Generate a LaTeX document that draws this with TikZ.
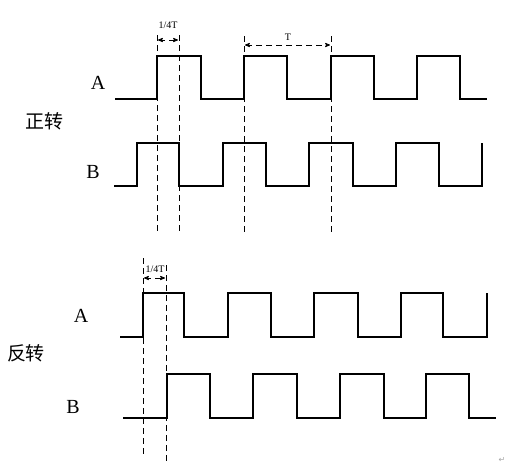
\documentclass[tikz,border=0pt]{standalone}
\usepackage{fontspec}
\setmainfont{Liberation Serif}
\newfontfamily\cjk{Noto Sans CJK SC}
\newfontfamily\symfont{DejaVu Sans}
\usetikzlibrary{arrows}

\begin{document}
\begin{tikzpicture}[x=1pt,y=-1pt,>=stealth',
  wave/.style={line width=1.6pt,line join=miter},
  guide/.style={dashed,dash pattern=on 6pt off 4pt,line width=0.8pt},
  span/.style={<->,guide,shorten >=1pt,shorten <=1pt},
  chan label/.style={font=\fontsize{20}{24}\selectfont,inner sep=0pt},
  dir label/.style={font=\cjk\fontsize{19}{22}\selectfont,inner sep=0pt},
  span label/.style={font=\fontsize{10}{11}\selectfont,inner sep=0pt}]

  \useasboundingbox (0,0) rectangle (523,475);

  % forward rotation
  \node[dir label] (fwd) at (44,121) {正转};
  \node[chan label] (fA) at (98,83) {A};
  \node[chan label] (fB) at (93,172) {B};

  \draw[wave] (115,99) -- (157,99) -- (157,56) -- (201,56) -- (201,99) -- (244,99)
    -- (244,56) -- (287,56) -- (287,99) -- (331,99) -- (331,56) -- (374,56)
    -- (374,99) -- (417,99) -- (417,56) -- (460,56) -- (460,99) -- (487,99);
  \draw[wave] (114,186) -- (137,186) -- (137,143) -- (179,143) -- (179,186) -- (223,186)
    -- (223,143) -- (266,143) -- (266,186) -- (309,186) -- (309,143) -- (353,143)
    -- (353,186) -- (396,186) -- (396,143) -- (439,143) -- (439,186) -- (482,186)
    -- (482,143);

  \coordinate (f1) at (157,35);  \coordinate (f1b) at (157,231);
  \coordinate (f2) at (179,35);  \coordinate (f2b) at (179,231);
  \coordinate (f3) at (244,36);  \coordinate (f3b) at (244,235);
  \coordinate (f4) at (331,36);  \coordinate (f4b) at (331,233);
  \draw[guide] (f1) -- (f1b);
  \draw[guide] (f2) -- (f2b);
  \draw[guide] (f3) -- (f3b);
  \draw[guide] (f4) -- (f4b);

  \coordinate (fq1) at (157,40); \coordinate (fq2) at (179,40);
  \coordinate (fp1) at (244,45); \coordinate (fp2) at (331,45);
  \draw[span] (fq1) -- (fq2);
  \draw[span] (fp1) -- (fp2);
  \node[span label] (fqt) at (168,25) {1/4T};
  \node[span label] (fpt) at (288,37) {T};

  % reverse rotation
  \node[dir label] (rev) at (26,353) {反转};
  \node[chan label] (rA) at (81,316) {A};
  \node[chan label] (rB) at (73,407) {B};

  \draw[wave] (120,337) -- (143,337) -- (143,293) -- (184,293) -- (184,337) -- (228,337)
    -- (228,293) -- (271,293) -- (271,337) -- (314,337) -- (314,293) -- (358,293)
    -- (358,337) -- (401,337) -- (401,293) -- (443,293) -- (443,337) -- (487,337)
    -- (487,293);
  \draw[wave] (123,418) -- (167,418) -- (167,374) -- (210,374) -- (210,418) -- (253,418)
    -- (253,374) -- (297,374) -- (297,418) -- (340,418) -- (340,374) -- (384,374)
    -- (384,418) -- (426,418) -- (426,374) -- (469,374) -- (469,418) -- (496,418);

  \coordinate (r1) at (143,258); \coordinate (r1b) at (143,457);
  \coordinate (r2) at (166,265); \coordinate (r2b) at (166,462);
  \draw[guide] (r1) -- (r1b);
  \draw[guide] (r2) -- (r2b);

  \coordinate (rq1) at (143,278); \coordinate (rq2) at (166,278);
  \draw[span] (rq1) -- (rq2);
  \node[span label] (rqt) at (155,269) {1/4T};

  \node[font=\symfont\fontsize{8}{8}\selectfont,text=black!35,inner sep=0pt] (ret) at (502,460) {↵};
\end{tikzpicture}
\end{document}
